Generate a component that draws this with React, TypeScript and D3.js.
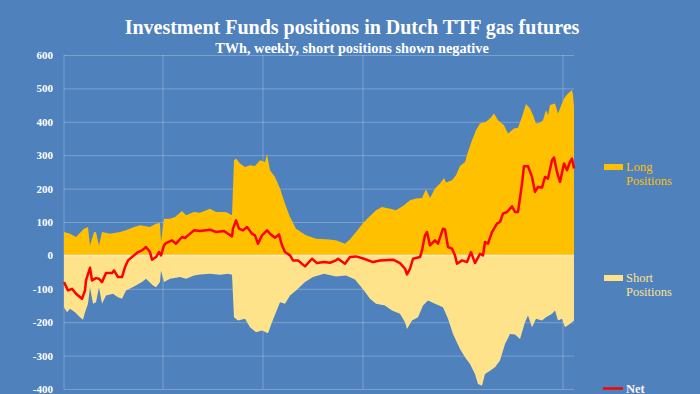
import React, { useRef, useEffect } from 'react';
import * as d3 from 'd3';

// [week index, TWh]
const longPositions: [number, number][] = [
  [0, 70], [3, 65], [6, 55], [10, 80], [12, 85], [13, 30], [15, 70], [16, 69], [17.5, 30], [19, 70],
  [23, 65], [28, 70], [31, 75], [35, 85], [38, 90], [43, 85], [46, 95], [48, 97], [48.5, 40], [50, 110],
  [53, 110], [55.5, 115], [59, 133], [61, 120], [65, 130], [68, 128], [73, 140], [76, 130], [81, 130], [84, 120],
  [85, 285], [86, 290], [88, 275], [90.5, 265], [93, 270], [95.5, 268], [98, 285], [100.5, 280], [101.5, 303], [103, 255],
  [105.5, 235], [108, 200], [110.5, 155], [113, 115], [116, 80], [121, 60], [126, 50], [131, 48], [136, 45], [140.5, 35],
  [143, 48], [146, 70], [150, 100], [153, 118], [156, 135], [159, 145], [163, 140], [166, 135], [170, 150], [173, 165],
  [176, 170], [179, 172], [181, 198], [183, 172], [185.5, 200], [188, 215], [190, 232], [191, 218], [194, 225], [196, 240],
  [198, 268], [200.5, 280], [202, 310], [204, 345], [206, 375], [208, 395], [211, 400], [213, 410], [215, 425], [217, 405],
  [220, 390], [222, 365], [225, 380], [227, 382], [229, 415], [231, 453], [233, 440], [234.5, 420], [236, 395], [238, 397],
  [239.5, 405], [241, 435], [242, 420], [243, 450], [245.5, 455], [247, 425], [250, 470], [252, 485], [254, 495], [254.5, 480],
  [255, 445],
];

const shortPositions: [number, number][] = [
  [0, -155], [1.5, -170], [3, -160], [5.5, -170], [8, -185], [9.5, -193], [10.5, -170], [12, -145], [13, -95], [14.5, -145],
  [16, -140], [17.5, -95], [19, -145], [21, -120], [24.5, -115], [27, -125], [29, -130], [31, -105], [35, -93], [39, -80],
  [41, -70], [44.5, -90], [46, -95], [48, -80], [48.5, -45], [50, -80], [53, -70], [58, -65], [61, -70], [65, -60],
  [68, -57], [73, -55], [78, -58], [82, -55], [84, -58], [85, -185], [87, -195], [90.5, -190], [93, -215], [96, -230],
  [99, -225], [102, -233], [104, -200], [106, -170], [108, -140], [110.5, -145], [113, -120], [116, -105], [120.5, -80], [124.5, -65],
  [130, -55], [136, -63], [141, -60], [145.5, -72], [150, -105], [153, -130], [156, -145], [160.5, -150], [164, -165], [168, -175],
  [170.5, -200], [171.5, -220], [174, -195], [177, -185], [179.5, -150], [182, -135], [185.5, -145], [189.5, -155], [192, -190], [194.5, -235],
  [198, -280], [200.5, -305], [203, -325], [205.5, -355], [207, -385], [209, -390], [210.5, -355], [213, -345], [215.5, -335], [218, -315],
  [220.5, -265], [223, -235], [225.5, -237], [228, -250], [230.5, -200], [232, -180], [234, -215], [236, -190], [239, -195], [241, -185],
  [244, -175], [245.5, -165], [247, -195], [249, -190], [250.5, -215], [253, -205], [255, -195],
];

const netPositions: [number, number][] = [
  [0, -80], [2, -105], [4, -100], [6, -115], [9, -130], [10.5, -105], [11, -75], [13, -37], [14, -75], [16, -68],
  [17.5, -70], [19, -80], [21, -53], [24, -53], [25, -45], [27, -65], [29, -65], [30.5, -35], [32, -15], [35, 0],
  [37, 10], [39, 15], [41, 25], [43, 10], [44, -13], [46, -5], [47.5, 10], [48.5, 0], [50, 30], [51, 37],
  [54, 45], [56, 35], [59, 55], [60.5, 52], [62, 60], [65, 75], [68, 73], [73, 77], [76, 70], [80, 73],
  [82, 65], [84, 57], [84.5, 80], [86, 105], [87.5, 80], [89.5, 75], [91.5, 85], [94, 65], [95.5, 60], [97, 35],
  [99, 60], [101.5, 75], [103, 65], [105.5, 53], [107.5, 63], [109, 30], [110.5, 10], [113, 0], [114.5, -15], [117, -15],
  [120.5, -33], [124, -10], [126.5, -23], [130, -20], [133, -22], [136, -15], [137, -10], [140.5, -25], [143, -5], [146, -3],
  [150, -10], [154.5, -20], [158, -15], [164.5, -13], [168, -23], [170.5, -40], [171.5, -57], [173, -40], [174.5, -10], [178, -5],
  [179, 15], [180.5, 60], [181.5, 70], [183, 30], [185.5, 45], [187, 35], [189.5, 80], [190.5, 78], [192, 25], [194, 20],
  [195.5, 0], [196.5, -25], [199, -15], [201.5, -20], [203.5, 10], [205.5, -23], [208, 5], [209.5, 0], [210.5, 40], [212, 35],
  [214, 70], [216.5, 95], [218, 100], [219.5, 125], [221.5, 130], [224, 147], [225.5, 130], [227, 130], [229, 215], [230, 267],
  [232, 267], [234, 235], [235.5, 190], [237, 205], [239, 203], [240.5, 235], [242, 230], [244, 285], [245, 293], [246.5, 250],
  [248, 220], [250, 275], [251.5, 255], [253, 280], [254, 290], [255, 260],
];

const yTicks = [-400, -300, -200, -100, 0, 100, 200, 300, 400, 500, 600];
const yearGridWeeks = [0, 49.5, 99.5, 149.5, 249.5];

const BG = '#4f81bd';
const LONG_COLOR = '#ffc000';
const SHORT_COLOR = '#ffe38b';
const NET_COLOR = '#ff0000';
const SERIF = '"Liberation Serif", "DejaVu Serif", serif';

export default function App() {
  const svgRef = useRef<SVGSVGElement>(null);

  useEffect(() => {
    const width = 700;
    const height = 394;
    const svg = d3.select(svgRef.current);
    svg.selectAll('*').remove();
    svg.attr('width', width).attr('height', height);

    svg.append('rect').attr('width', width).attr('height', height).attr('fill', BG);

    const left = 64;
    const right = 574;
    const top = 55;
    const bottom = 389;

    const x = d3.scaleLinear().domain([0, 255]).range([left, right]);
    const y = d3.scaleLinear().domain([-400, 600]).range([bottom, top]);

    // Titles
    svg.append('text')
      .attr('x', 352).attr('y', 34)
      .attr('text-anchor', 'middle')
      .attr('font-family', SERIF).attr('font-weight', 'bold').attr('font-size', 20)
      .attr('fill', '#ffffff')
      .text('Investment Funds positions in Dutch TTF gas futures');

    svg.append('text')
      .attr('x', 352).attr('y', 53)
      .attr('text-anchor', 'middle')
      .attr('font-family', SERIF).attr('font-weight', 'bold').attr('font-size', 14.3)
      .attr('fill', '#ffffff')
      .text('TWh, weekly, short positions shown negative');

    // Horizontal grid
    const grid = svg.append('g').attr('transform', `translate(${left},0)`)
      .call(d3.axisLeft(y).tickValues(yTicks).tickSize(-(right - left)).tickFormat(() => ''));
    grid.select('.domain').remove();
    grid.selectAll('line').attr('stroke', 'rgba(255,255,255,0.25)').attr('stroke-width', 1);

    // Vertical grid (yearly)
    svg.append('g').selectAll('line')
      .data(yearGridWeeks)
      .enter().append('line')
      .attr('x1', d => x(d)).attr('x2', d => x(d))
      .attr('y1', top).attr('y2', bottom)
      .attr('stroke', 'rgba(255,255,255,0.25)').attr('stroke-width', 1);

    // Y labels
    const yAxis = svg.append('g').attr('transform', `translate(${left},0)`)
      .call(d3.axisLeft(y).tickValues(yTicks).tickSize(0).tickPadding(11).tickFormat(d => String(d)));
    yAxis.select('.domain').remove();
    yAxis.selectAll('text')
      .attr('font-family', SERIF).attr('font-weight', 'bold').attr('font-size', 11)
      .attr('fill', '#ffffff');

    const longArea = d3.area<[number, number]>()
      .x(d => x(d[0])).y0(y(0)).y1(d => y(d[1]));
    const shortArea = d3.area<[number, number]>()
      .x(d => x(d[0])).y0(y(0)).y1(d => y(d[1]));
    const netLine = d3.line<[number, number]>()
      .x(d => x(d[0])).y(d => y(d[1]));

    svg.append('path').datum(longPositions).attr('d', longArea).attr('fill', LONG_COLOR);
    svg.append('path').datum(shortPositions).attr('d', shortArea).attr('fill', SHORT_COLOR);

    // zero line
    svg.append('line')
      .attr('x1', left).attr('x2', right).attr('y1', y(0)).attr('y2', y(0))
      .attr('stroke', '#f3ead0').attr('stroke-width', 1.5);

    svg.append('path').datum(netPositions).attr('d', netLine)
      .attr('fill', 'none').attr('stroke', NET_COLOR).attr('stroke-width', 2.5)
      .attr('stroke-linejoin', 'round');

    // Legend
    const legendItems = [
      { label: ['Long', 'Positions'], color: LONG_COLOR, textColor: LONG_COLOR, y: 167, kind: 'rect' },
      { label: ['Short', 'Positions'], color: SHORT_COLOR, textColor: SHORT_COLOR, y: 278, kind: 'rect' },
      { label: ['Net'], color: NET_COLOR, textColor: '#fff4f4', y: 388.5, kind: 'line' },
    ];
    legendItems.forEach(item => {
      if (item.kind === 'rect') {
        svg.append('rect').attr('x', 604).attr('y', item.y - 3).attr('width', 19).attr('height', 6)
          .attr('fill', item.color);
      } else {
        svg.append('line').attr('x1', 603).attr('x2', 623).attr('y1', item.y).attr('y2', item.y)
          .attr('stroke', item.color).attr('stroke-width', 2.5);
      }
      item.label.forEach((t, i) => {
        svg.append('text')
          .attr('x', 626).attr('y', item.y + 4 + i * 13.5)
          .attr('font-family', SERIF).attr('font-size', 12.5)
          .attr('font-weight', item.kind === 'line' ? 'bold' : 'normal')
          .attr('fill', item.textColor)
          .text(t);
      });
    });
  }, []);

  return (
    <div style={{ position: 'absolute', left: 0, top: 0, width: 700, height: 394, overflow: 'hidden' }}>
      <svg ref={svgRef} style={{ display: 'block' }}></svg>
    </div>
  );
}
